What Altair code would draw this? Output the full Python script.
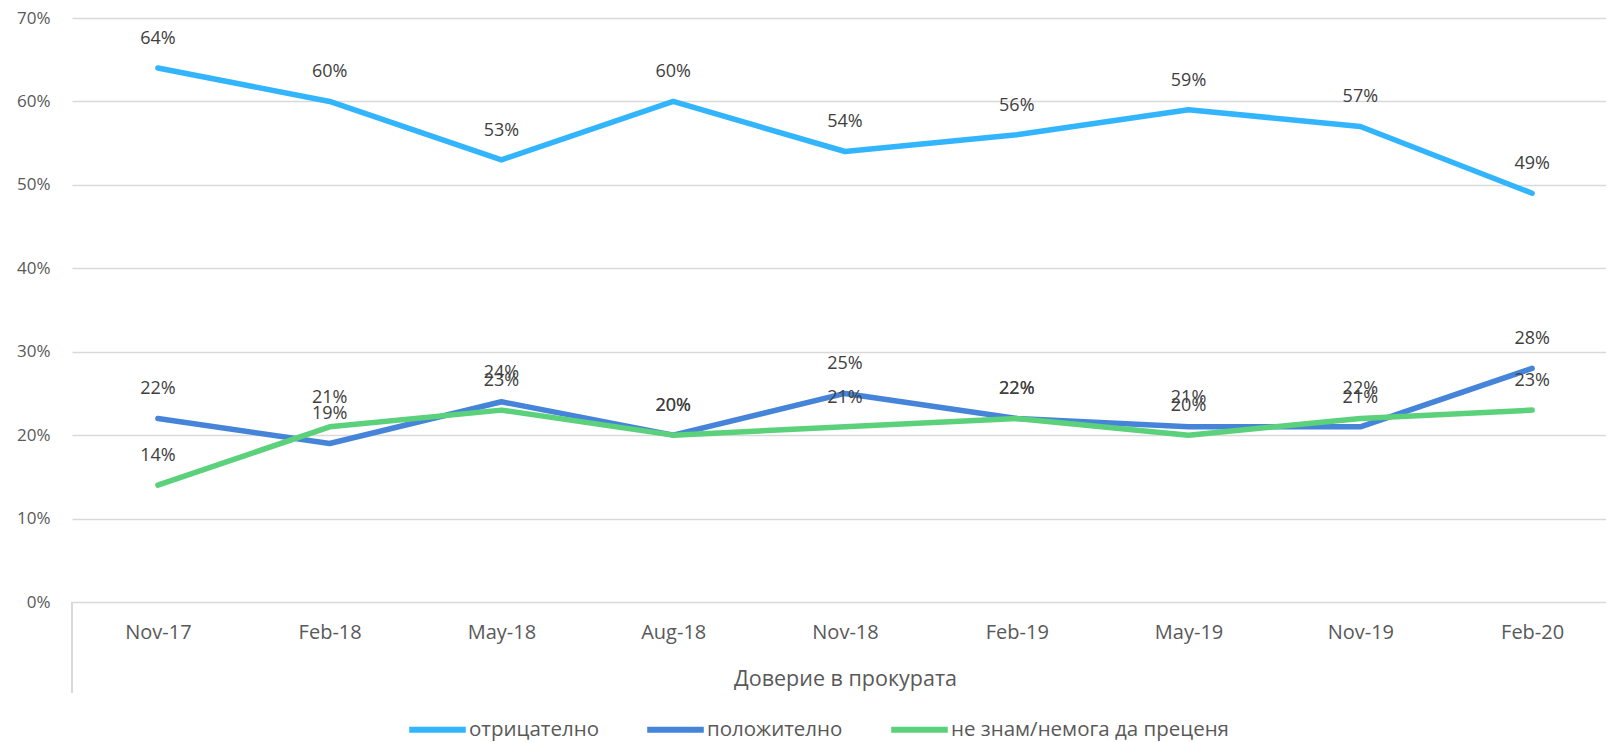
import altair as alt
import pandas as pd

months = ["Nov-17", "Feb-18", "May-18", "Aug-18", "Nov-18", "Feb-19", "May-19", "Nov-19", "Feb-20"]
negative = [64, 60, 53, 60, 54, 56, 59, 57, 49]
positive = [22, 19, 24, 20, 25, 22, 21, 21, 28]
dont_know = [14, 21, 23, 20, 21, 22, 20, 22, 23]
series_names = ["отрицателно", "положително", "не знам/немога да преценя"]
series_colors = ["#33B5FD", "#4584D8", "#5BD17B"]
y_ticks = [0, 0.1, 0.2, 0.3, 0.4, 0.5, 0.6, 0.7]
x_title = "Доверие в прокурата"

rows = []
for name, vals in zip(series_names, [negative, positive, dont_know]):
    for m, v in zip(months, vals):
        rows.append({"month": m, "series": name, "value": v / 100.0})
df = pd.DataFrame(rows)

W = 1546
H = 584
PAD_L = 64
PAD_T = 10
SVG_W = 1598
SVG_H = 734
FONT = "Open Sans"
TXT = "#595959"

x_enc = alt.X(
    "month:N",
    sort=months,
    scale=alt.Scale(padding=0.5),
    axis=alt.Axis(
        title=x_title,
        labelAngle=0,
        labelFont=FONT,
        labelFontSize=20,
        labelColor=TXT,
        labelPadding=20,
        ticks=False,
        tickSize=0,
        domain=False,
        grid=False,
        titleFont=FONT,
        titleFontSize=21.5,
        titleFontWeight="normal",
        titleColor=TXT,
        titlePadding=26,
    ),
)
y_enc = alt.Y(
    "value:Q",
    scale=alt.Scale(domain=[0, 0.7], nice=False),
    axis=alt.Axis(
        title=None,
        format=".0%",
        values=y_ticks,
        labelFont=FONT,
        labelFontSize=17,
        labelColor=TXT,
        labelPadding=22,
        ticks=False,
        tickSize=0,
        domain=False,
        grid=True,
        gridColor="#d9d9d9",
        gridWidth=1.5,
    ),
)
color_enc = alt.Color(
    "series:N",
    sort=series_names,
    scale=alt.Scale(domain=series_names, range=series_colors),
    legend=alt.Legend(
        title=None,
        orient="none",
        direction="horizontal",
        legendX=334,
        legendY=680,
        symbolType="stroke",
        symbolStrokeWidth=6,
        symbolSize=3200,
        labelFont=FONT,
        labelFontSize=20.5,
        labelColor=TXT,
        labelOffset=0,
        labelLimit=600,
        columnPadding=36,
    ),
)

base = alt.Chart(df)

lines = base.mark_line(strokeWidth=5.5, strokeCap="round", strokeJoin="round").encode(
    x=x_enc, y=y_enc, color=color_enc
)

labels = base.mark_text(dy=-29, font=FONT, fontSize=18, color="#404040").encode(
    x=alt.X("month:N", sort=months),
    y=alt.Y("value:Q"),
    text=alt.Text("value:Q", format=".0%"),
)

left_rule = base.mark_rule(color="#d9d9d9", strokeWidth=1.5).encode(
    x=alt.value(0), y=alt.value(H), y2=alt.value(H + 91)
)

chart = (
    alt.layer(lines, labels, left_rule)
    .properties(
        width=W,
        height=H,
        autosize=alt.AutoSizeParams(type="none"),
        padding={
            "left": PAD_L,
            "top": PAD_T,
            "right": SVG_W - PAD_L - W,
            "bottom": SVG_H - PAD_T - H,
        },
    )
    .configure_view(stroke=None)
)

chart.save("out.html", embed_options={"renderer": "svg", "actions": False})
